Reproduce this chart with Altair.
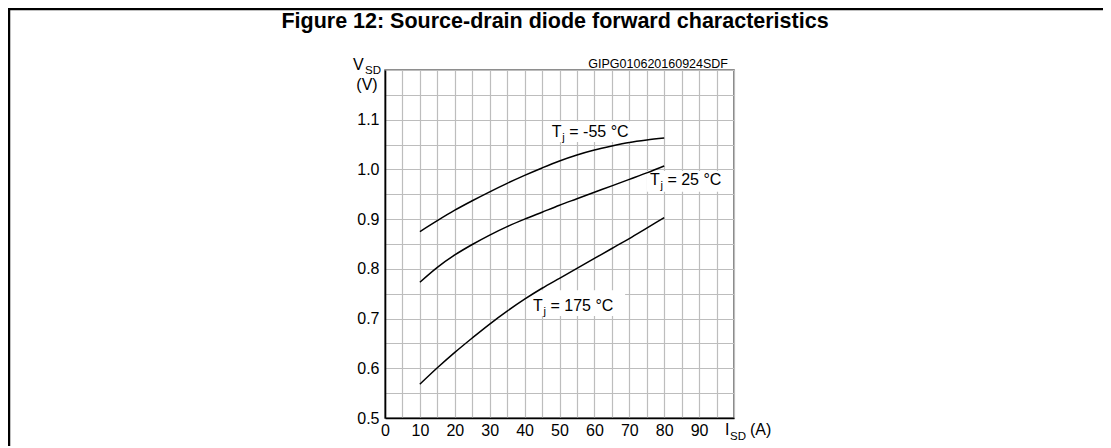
import altair as alt
import pandas as pd

# ---------------- data ----------------
I_SD = [10, 15, 20, 25, 30, 35, 40, 45, 50, 55, 60, 65, 70, 75, 80]
V_TJ_M55 = [0.875, 0.897, 0.918, 0.937, 0.955, 0.972, 0.988, 1.003, 1.017, 1.029,
            1.039, 1.047, 1.054, 1.059, 1.063]
V_TJ_25 = [0.773, 0.803, 0.828, 0.849, 0.868, 0.885, 0.900, 0.914, 0.928, 0.941,
           0.954, 0.967, 0.980, 0.993, 1.007]
V_TJ_175 = [0.568, 0.601, 0.632, 0.661, 0.689, 0.715, 0.739, 0.761, 0.781, 0.801,
            0.821, 0.841, 0.861, 0.882, 0.903]
SERIES = ["Tj = -55 °C", "Tj = 25 °C", "Tj = 175 °C"]

# curve labels (anchor in data units) and their white boxes
LABEL_REST = ["= -55 °C", "= 25 °C", "= 175 °C"]
LABEL_I = [47.8, 75.9, 42.4]
LABEL_V = [1.066, 0.969, 0.716]
BOX_I1 = [45.8, 75.0, 40.6]
BOX_I2 = [73.6, 99.4, 68.8]
BOX_V1 = [1.055, 0.955, 0.705]
BOX_V2 = [1.097, 0.997, 0.757]

X_TICKS = [0, 5, 10, 15, 20, 25, 30, 35, 40, 45, 50, 55, 60, 65, 70, 75, 80, 85, 90, 95, 100]
Y_TICKS = [0.5, 0.55, 0.6, 0.65, 0.7, 0.75, 0.8, 0.85, 0.9, 0.95, 1.0, 1.05, 1.1, 1.15, 1.2]

TITLE = "Figure 12: Source-drain diode forward characteristics"
CODE = "GIPG010620160924SDF"

# ---------------- style ----------------
FONT = "Liberation Sans, Arial, sans-serif"
GRID = "#bdbdbd"
W, H = 349, 348
PAD = {"left": 377, "top": 62, "right": 369, "bottom": 28}

rows = []
for name, vals in zip(SERIES, [V_TJ_M55, V_TJ_25, V_TJ_175]):
    for i, v in zip(I_SD, vals):
        rows.append({"series": name, "I": i, "V": v})
curves = pd.DataFrame(rows)

labels = pd.DataFrame({"I": LABEL_I, "V": LABEL_V, "rest": LABEL_REST})
boxes = pd.DataFrame({"I": BOX_I1, "I2": BOX_I2, "V": BOX_V1, "V2": BOX_V2})

x_scale = alt.Scale(domain=[0, 100], nice=False)
y_scale = alt.Scale(domain=[0.5, 1.2], nice=False, zero=False)

x_axis = alt.Axis(
    values=X_TICKS,
    labelExpr="(datum.value % 10 == 0 && datum.value < 100) ? datum.label : ''",
    grid=True, gridColor=GRID, gridWidth=1.2, ticks=False,
    domainColor="black", domainWidth=1.6,
    labelFont=FONT, labelFontSize=16, labelColor="black", labelPadding=4,
    labelAngle=0, labelOverlap=False, labelFlush=False, title=None,
)
y_axis = alt.Axis(
    values=Y_TICKS,
    labelExpr="(round(datum.value * 100) % 10 == 0 && datum.value < 1.15) ? format(datum.value, '.1f') : ''",
    grid=True, gridColor=GRID, gridWidth=1.2, ticks=False,
    domainColor="black", domainWidth=1.6,
    labelFont=FONT, labelFontSize=16, labelColor="black", labelPadding=6,
    labelOverlap=False, labelFlush=False, title=None,
)

X = alt.X("I:Q", scale=x_scale, axis=x_axis)
Y = alt.Y("V:Q", scale=y_scale, axis=y_axis)

box_layer = alt.Chart(boxes).mark_rect(fill="white").encode(
    x=X, x2="I2:Q", y=Y, y2="V2:Q"
)

line_layer = alt.Chart(curves).mark_line(
    color="black", strokeWidth=1.5, interpolate="monotone"
).encode(x=X, y=Y, detail="series:N")

lab_T = alt.Chart(labels).mark_text(
    text="T", font=FONT, fontSize=16, align="left", baseline="alphabetic", color="black"
).encode(x=X, y=Y)
lab_j = alt.Chart(labels).mark_text(
    text="j", font=FONT, fontSize=11, align="left", baseline="alphabetic", color="black",
    dx=10.5, dy=4
).encode(x=X, y=Y)
lab_rest = alt.Chart(labels).mark_text(
    font=FONT, fontSize=16, align="left", baseline="alphabetic", color="black", dx=17.5
).encode(x=X, y=Y, text="rest:N")

# axis-title pieces anchored at the ends of the axes
corner_top = pd.DataFrame({"I": [0], "V": [1.2]})
corner_right = pd.DataFrame({"I": [100], "V": [0.5]})
corner_tr = pd.DataFrame({"I": [100], "V": [1.2]})

v_main = alt.Chart(corner_top).mark_text(
    text="V", font=FONT, fontSize=16, align="left", baseline="alphabetic", color="black", dx=-32, dy=0
).encode(x=X, y=Y)
v_sub = alt.Chart(corner_top).mark_text(
    text="SD", font=FONT, fontSize=11.5, align="left", baseline="alphabetic", color="black", dx=-20, dy=3.5
).encode(x=X, y=Y)
v_unit = alt.Chart(corner_top).mark_text(
    text="(V)", font=FONT, fontSize=16, align="center", baseline="alphabetic", color="black", dx=-18, dy=19.5
).encode(x=X, y=Y)

i_main = alt.Chart(corner_right).mark_text(
    text="I", font=FONT, fontSize=16, align="left", baseline="alphabetic", color="black", dx=-9, dy=17
).encode(x=X, y=Y)
i_sub = alt.Chart(corner_right).mark_text(
    text="SD", font=FONT, fontSize=11.5, align="left", baseline="alphabetic", color="black", dx=-4, dy=22
).encode(x=X, y=Y)
i_unit = alt.Chart(corner_right).mark_text(
    text="(A)", font=FONT, fontSize=16, align="left", baseline="alphabetic", color="black", dx=16, dy=17
).encode(x=X, y=Y)

code_txt = alt.Chart(corner_tr).mark_text(
    text=CODE, font=FONT, fontSize=12.5, align="right", baseline="alphabetic", color="black", dx=-6, dy=-2
).encode(x=X, y=Y)

# figure title and frame (page decoration)
one = pd.DataFrame({"t": [TITLE]})
title_txt = alt.Chart(one).mark_text(
    font=FONT, fontSize=21.5, fontWeight="bold", align="center", baseline="alphabetic", color="black"
).encode(x=alt.value(170), y=alt.value(-42), text="t:N")

frame_top = alt.Chart(one).mark_rule(color="black", strokeWidth=2.5).encode(
    x=alt.value(-377), x2=alt.value(718), y=alt.value(-61)
)
frame_left = alt.Chart(one).mark_rule(color="black", strokeWidth=2.5).encode(
    x=alt.value(-376), y=alt.value(-62), y2=alt.value(376)
)

chart = alt.layer(
    box_layer, line_layer, lab_T, lab_j, lab_rest,
    v_main, v_sub, v_unit, i_main, i_sub, i_unit, code_txt,
    title_txt, frame_top, frame_left,
).properties(
    width=W, height=H,
    autosize=alt.AutoSizeParams(type="none"),
    padding=PAD,
    background="white",
).configure_view(
    stroke="#6a6a6a", strokeWidth=1.6
)

chart.save("out.html", embed_options={"renderer": "svg", "actions": False})
